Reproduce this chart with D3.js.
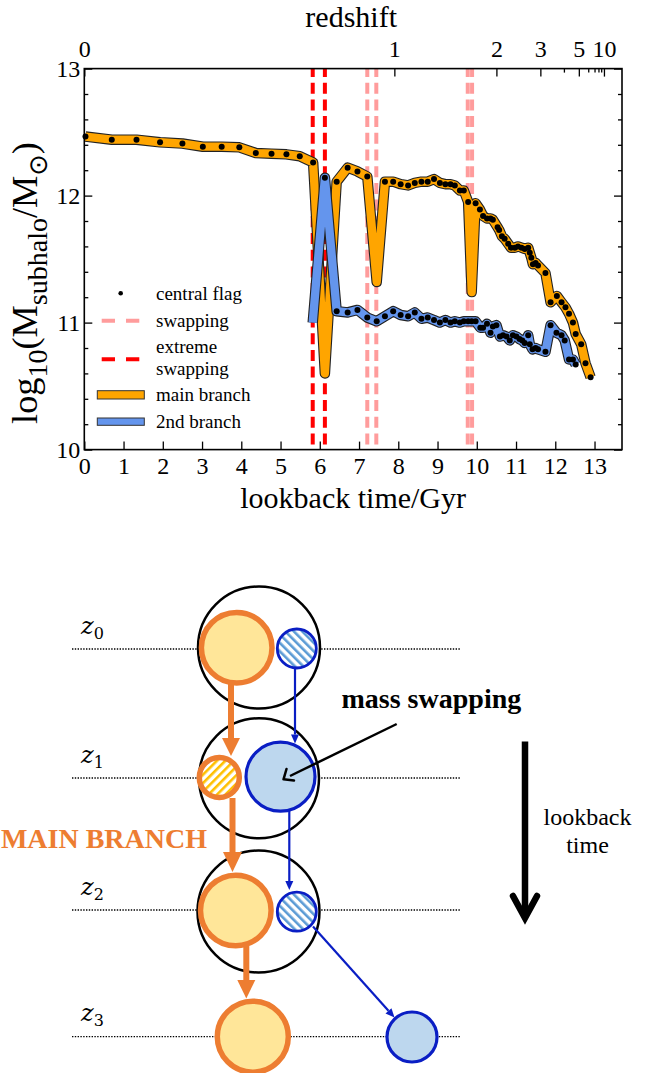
<!DOCTYPE html>
<html><head><meta charset="utf-8">
<script src="https://cdn.jsdelivr.net/npm/d3@7"></script>
<style>body{margin:0;background:#fff}svg{display:block}</style>
</head><body><svg id="c" width="655" height="1073"></svg>
<script>
// ---------------- data ----------------
const mainT = [0.03,0.70,1.33,1.93,2.50,3.02,3.50,3.95,4.37,4.77,5.15,5.49,5.83,6.13,6.43,6.71,6.96,7.21,7.45,7.66,7.87,8.06,8.25,8.42,8.59,8.75,8.91,9.06,9.20,9.33,9.44,9.57,9.67,9.78,9.87,9.97,10.08,10.16,10.26,10.35,10.41,10.53,10.57,10.64,10.71,10.80,10.87,10.97,11.05,11.14,11.22,11.31,11.35,11.39,11.43,11.50,11.56,11.75,11.88,12.04,12.16,12.26,12.35,12.45,12.52,12.66,12.77,12.90];
const mainV = [12.465,12.44,12.44,12.42,12.41,12.385,12.385,12.38,12.335,12.33,12.325,12.31,12.26,10.60,12.11,12.22,12.19,12.15,11.32,12.11,12.11,12.09,12.08,12.10,12.11,12.11,12.13,12.10,12.09,12.09,12.08,12.04,12.04,11.95,11.24,11.94,11.89,11.84,11.82,11.82,11.81,11.75,11.73,11.68,11.66,11.62,11.59,11.59,11.60,11.59,11.58,11.59,11.55,11.51,11.46,11.47,11.45,11.39,11.16,11.21,11.16,11.12,11.07,11.00,10.91,10.83,10.68,10.57];
const mainFlag = mainT.map((t,i)=> (i===13||i===18||i===34)?0:1);
const secT = [5.82,6.13,6.43,6.71,6.96,7.21,7.45,7.66,7.87,8.06,8.25,8.42,8.59,8.75,8.91,9.06,9.20,9.33,9.44,9.57,9.67,9.78,9.87,9.97,10.09,10.16,10.26,10.35,10.41,10.50,10.59,10.67,10.76,10.84,10.92,11.01,11.09,11.16,11.22,11.31,11.35,11.42,11.50,11.56,11.75,11.88,12.03,12.16,12.24,12.35,12.45,12.52];
const secV = [11.00,12.14,11.09,11.08,11.10,11.04,11.01,11.05,11.09,11.06,11.05,11.08,11.03,11.04,11.02,11.00,11.02,11.00,11.01,11.00,11.01,11.01,11.01,11.01,10.96,10.96,10.99,10.92,10.97,10.98,10.89,10.90,10.89,10.86,10.90,10.89,10.87,10.86,10.84,10.90,10.83,10.79,10.80,10.79,10.77,10.98,10.92,10.90,10.86,10.71,10.71,10.67];
const secFlag = secT.map((t,i)=> i===0?0:1);
const swapT = [7.21,7.44,9.77,9.88];
const extremeT = [5.82,6.13];
const xTicks = [0,1,2,3,4,5,6,7,8,9,10,11,12,13];
const yTicks = [10,11,12,13];
const yMinor = [10.2,10.4,10.6,10.8,11.2,11.4,11.6,11.8,12.2,12.4,12.6,12.8];
const zMajor = ["0","1","2","3","5","10"];
const zMajorT = [0,7.9,10.5,11.62,12.6,13.24];
const zMinorT = [12.22,12.84,13.0,13.1,13.17];
const legendLabels = ["central flag","swapping","extreme","swapping","main branch","2nd branch"];

// ---------------- chart ----------------
const svg = d3.select("#c");
const FONT = "'Liberation Serif', 'Times New Roman', serif";
const x = d3.scaleLinear().domain([0,13.7]).range([84.3,622]);
const y = d3.scaleLinear().domain([10,13]).range([449.6,68.6]);
const ORANGE = "#ffa500", BLUE = "#6495ed";

const g = svg.append("g");
function vlines(arr, color){
  g.selectAll(null).data(arr).enter().append("line")
    .attr("x1",d=>x(d)).attr("x2",d=>x(d)).attr("y1",y(13)).attr("y2",y(10))
    .attr("stroke",color).attr("stroke-width",4)
    .attr("stroke-dasharray","11,5.7").attr("stroke-dashoffset",2.6);
}
vlines(swapT,"#ff9c9c");
vlines(extremeT,"#ff0000");

const line = d3.line().x(d=>x(d[0])).y(d=>y(d[1]));
function branch(T,V,F,color){
  const pts = T.map((t,i)=>[t,V[i]]);
  g.append("path").attr("d",line(pts)).attr("fill","none").attr("stroke","#222")
    .attr("stroke-width",10.5).attr("stroke-linejoin","round").attr("stroke-linecap","butt");
  g.append("path").attr("d",line(pts)).attr("fill","none").attr("stroke",color)
    .attr("stroke-width",8.3).attr("stroke-linejoin","round").attr("stroke-linecap","butt");
  g.selectAll(null).data(pts.filter((p,i)=>F[i])).enter().append("circle")
    .attr("cx",d=>x(d[0])).attr("cy",d=>y(d[1])).attr("r",3).attr("fill","#000");
}
branch(mainT,mainV,mainFlag,ORANGE);
branch(secT,secV,secFlag,BLUE);

// axes
const ax = svg.append("g");
const axBottom = d3.axisBottom(x).tickValues(xTicks).tickSize(-8).tickPadding(7).tickFormat(d3.format("d"));
ax.append("g").attr("transform",`translate(0,${y(10)})`).call(axBottom);
const axLeft = d3.axisLeft(y).tickValues(yTicks).tickSize(-8).tickPadding(4).tickFormat(d3.format("d"));
ax.append("g").attr("transform",`translate(${x(0)},0)`).call(axLeft);
ax.append("g").attr("transform",`translate(${x(0)},0)`).call(d3.axisLeft(y).tickValues(yMinor).tickSize(-4).tickFormat(""));
ax.append("g").attr("transform",`translate(${x(13.7)},0)`).call(d3.axisRight(y).tickValues(yTicks).tickSize(-8).tickFormat(""));
ax.append("g").attr("transform",`translate(${x(13.7)},0)`).call(d3.axisRight(y).tickValues(yMinor).tickSize(-4).tickFormat(""));
const axTop = d3.axisTop(x).tickValues(zMajorT).tickSize(-8).tickPadding(12).tickFormat((d,i)=>zMajor[i]);
ax.append("g").attr("transform",`translate(0,${y(13)})`).call(axTop);
ax.append("g").attr("transform",`translate(0,${y(13)})`).call(d3.axisTop(x).tickValues(zMinorT).tickSize(-4).tickFormat(""));
ax.selectAll(".domain").remove();
ax.selectAll("g").attr("font-family",null).attr("font-size",null);
ax.selectAll(".tick line").attr("stroke","#000").attr("stroke-width",1.3);
ax.selectAll(".tick text").style("font-size","24px").attr("fill","#000").style("font-family",FONT);
svg.append("rect").attr("x",x(0)).attr("y",y(13)).attr("width",x(13.7)-x(0)).attr("height",y(10)-y(13))
  .attr("fill","none").attr("stroke","#000").attr("stroke-width",1.6);

// axis titles
svg.append("text").attr("x",(x(0)+x(13.7))/2).attr("y",508).attr("text-anchor","middle")
  .style("font-family",FONT).style("font-size","30px").text("lookback time/Gyr");
svg.append("text").attr("x",(x(0)+x(13.7))/2 - 2).attr("y",27).attr("text-anchor","middle")
  .style("font-family",FONT).style("font-size","30px").text("redshift");
const ylg = svg.append("g");
const yl = ylg.append("text").attr("text-anchor","middle").style("font-family",FONT).style("font-size","31px");
yl.append("tspan").text("log");
yl.append("tspan").attr("dy",8).style("font-size","24px").text("10");
yl.append("tspan").attr("dy",-8).text("(M");
yl.append("tspan").attr("dy",8).style("font-size","24px").text("subhalo");
yl.append("tspan").attr("dy",-8).text("/M");
yl.append("tspan").attr("dy",8).style("font-size","22px").style("font-family","'DejaVu Sans'").text("\u2299");
yl.append("tspan").attr("dy",-8).text(")");
{
  const bb = yl.node().getBBox();
  const k = 282/bb.width;
  const cx = bb.x+bb.width/2, cy = bb.y+bb.height/2;
  ylg.attr("transform",`translate(28.5,283) rotate(-90) scale(${k}) translate(${-cx},${-cy})`);
}

// legend
const lg = svg.append("g").style("font-family",FONT).style("font-size","19px");
lg.append("circle").attr("cx",120.7).attr("cy",293.3).attr("r",2.3).attr("fill","#000");
lg.append("line").attr("x1",101.7).attr("x2",139.3).attr("y1",320.7).attr("y2",320.7)
  .attr("stroke","#ff9c9c").attr("stroke-width",4).attr("stroke-dasharray","13.3,11");
lg.append("line").attr("x1",101.7).attr("x2",139.3).attr("y1",359.3).attr("y2",359.3)
  .attr("stroke","#ff0000").attr("stroke-width",4).attr("stroke-dasharray","13.3,11");
lg.append("rect").attr("x",97.3).attr("y",390.7).attr("width",47).attr("height",8.3)
  .attr("fill",ORANGE).attr("stroke","#333").attr("stroke-width",1);
lg.append("rect").attr("x",97.3).attr("y",418).attr("width",47).attr("height",7.3)
  .attr("fill",BLUE).attr("stroke","#333").attr("stroke-width",1);
const ly = [299.5,326.5,353.3,375,400.7,428.3];
lg.selectAll(null).data(legendLabels).enter().append("text")
  .attr("x",156).attr("y",(d,i)=>ly[i]).text(d=>d);

// ---------------- diagram ----------------
const OR = "#ed7d31", ORF = "#ffe699", BL = "#0a1ec4", BLF = "#bdd7ee";
const defs = svg.append("defs");
function hatch(id, color, angle){
  const p = defs.append("pattern").attr("id",id).attr("patternUnits","userSpaceOnUse")
    .attr("width",6).attr("height",6).attr("patternTransform",`rotate(${angle})`);
  p.append("rect").attr("width",6).attr("height",6).attr("fill","#fff");
  p.append("rect").attr("x",0).attr("y",0).attr("width",2.6).attr("height",6).attr("fill",color);
}
hatch("hO","#ffc000",45);
hatch("hB","#5b9bd5",-45);

const dg = svg.append("g");
const levels = [649,778,910,1036.7];
const zlab = ["0","1","2","3"];
levels.forEach((lv,i)=>{
  dg.append("line").attr("x1",72).attr("x2",460).attr("y1",lv).attr("y2",lv)
    .attr("stroke","#000").attr("stroke-width",1.3).attr("stroke-dasharray","1.4,1.4");
  const t = dg.append("text").attr("x",81).attr("y",lv-15.5).style("font-family","'DejaVu Serif'")
    .style("font-style","italic").style("font-size","24px").text("z");
  t.append("tspan").attr("dy",5).style("font-size","16px").style("font-style","normal").text(zlab[i]);
});
[[259,647.5,61],[259,778.3,60],[258.5,911.5,61]].forEach(c=>{
  dg.append("circle").attr("cx",c[0]).attr("cy",c[1]).attr("r",c[2]).attr("fill","#fff")
    .attr("stroke","#000").attr("stroke-width",2.5);
});
function circ(cx,cy,r,fill,stroke,sw){
  dg.append("circle").attr("cx",cx).attr("cy",cy).attr("r",r).attr("fill",fill).attr("stroke",stroke).attr("stroke-width",sw);
}
circ(236.7,647.7,35.3,ORF,OR,5.5);
circ(296.8,648.5,19.5,"url(#hB)",BL,2.8);
circ(219.3,777.5,20,"url(#hO)",OR,5.5);
circ(280.5,776.7,34.5,BLF,BL,3.2);
circ(235.8,910.5,35.3,ORF,OR,5.5);
circ(296.8,911.7,19.5,"url(#hB)",BL,2.8);
circ(252.8,1036.7,35.5,ORF,OR,5.5);
circ(412,1037,25,BLF,BL,3.2);

function arrow(x1,y1,x2,y2,color,w,hl,hw){
  const a = Math.atan2(y2-y1,x2-x1), c=Math.cos(a), s=Math.sin(a);
  const bx = x2-hl*c, by = y2-hl*s;
  dg.append("line").attr("x1",x1).attr("y1",y1).attr("x2",bx).attr("y2",by)
    .attr("stroke",color).attr("stroke-width",w);
  dg.append("path").attr("d",`M${x2},${y2}L${bx-hw*s},${by+hw*c}L${bx+hw*s},${by-hw*c}Z`).attr("fill",color);
}
arrow(231,684,231,756,OR,6,18,9);
arrow(232.5,798,232.5,872,OR,6,20,9.5);
arrow(246.3,946,246.3,998.5,OR,6,18.5,9);
arrow(295,668.5,295,743.5,BL,2.2,9,4);
arrow(289.3,811,289.3,890,BL,2.2,9,4);
arrow(313,926.5,394.5,1017.5,BL,2.2,9,4);
dg.append("line").attr("x1",396.7).attr("y1",724).attr("x2",290).attr("y2",776)
  .attr("stroke","#000").attr("stroke-width",2.5);
dg.append("path").attr("d","M283.5,779.3 L286.5,769 M283.5,779.3 L294,780.5").attr("stroke","#000")
  .attr("stroke-width",2.5).attr("fill","none").attr("stroke-linecap","round");
dg.append("text").attr("x",341.5).attr("y",708).style("font-family",FONT).style("font-weight","bold")
  .style("font-size","28px").text("mass swapping");
dg.append("text").attr("x",207).attr("y",848).attr("text-anchor","end").style("font-family",FONT).style("font-weight","bold")
  .style("font-size","28px").attr("fill",OR).text("MAIN BRANCH");
dg.append("line").attr("x1",525).attr("y1",741.5).attr("x2",525).attr("y2",917).attr("stroke","#000").attr("stroke-width",6.5);
dg.append("path").attr("d","M513,896 L525,918 L537,896").attr("stroke","#000").attr("stroke-width",6.5)
  .attr("fill","none").attr("stroke-linecap","round").attr("stroke-linejoin","miter");
dg.append("text").attr("x",587.5).attr("y",825).attr("text-anchor","middle").style("font-family",FONT).style("font-size","24px").text("lookback");
dg.append("text").attr("x",587.5).attr("y",853.3).attr("text-anchor","middle").style("font-family",FONT).style("font-size","24px").text("time");
</script></body></html>
